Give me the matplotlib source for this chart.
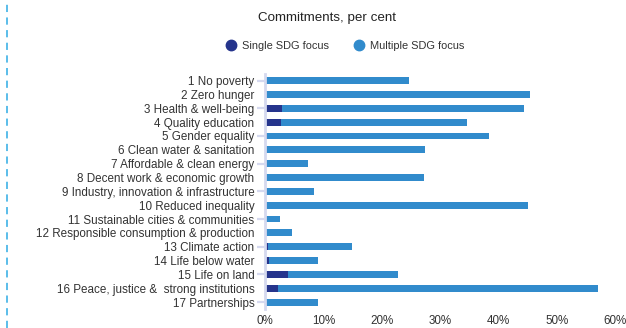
import matplotlib
matplotlib.use("Agg")
import matplotlib.pyplot as plt
from matplotlib.lines import Line2D

plt.rcParams['font.family'] = ['Liberation Sans', 'DejaVu Sans']

categories = [
    "1 No poverty", "2 Zero hunger", "3 Health & well-being", "4 Quality education",
    "5 Gender equality", "6 Clean water & sanitation", "7 Affordable & clean energy",
    "8 Decent work & economic growth", "9 Industry, innovation & infrastructure",
    "10 Reduced inequality", "11 Sustainable cities & communities",
    "12 Responsible consumption & production", "13 Climate action",
    "14 Life below water", "15 Life on land", "16 Peace, justice &  strong institutions",
    "17 Partnerships",
]
single = [0.0, 0.0, 2.9, 2.7, 0.3, 0.0, 0.0, 0.0, 0.0, 0.0, 0.0, 0.0, 0.5, 0.7, 3.9, 2.2, 0.0]
total = [24.7, 45.4, 44.4, 34.6, 38.4, 27.4, 7.4, 27.3, 8.4, 45.1, 2.6, 4.6, 14.9, 9.1, 22.8, 57.1, 9.1]
multiple = [t - s for t, s in zip(total, single)]
xticks = [0, 10, 20, 30, 40, 50, 60]
xtick_labels = ["0%", "10%", "20%", "30%", "40%", "50%", "60%"]

DARK = "#25348c"
LIGHT = "#318bcc"
AXC = "#d5d9ef"
TXT = "#333333"

W, H = 626, 328
fig = plt.figure(figsize=(W / 100, H / 100), dpi=100)
ax = fig.add_axes([265 / W, 1 - 309 / H, 350 / W, (309 - 73.7) / H])

y = list(range(len(categories)))
ax.barh(y, single, height=0.5, color=DARK)
ax.barh(y, multiple, left=single, height=0.5, color=LIGHT)

ax.set_ylim(len(categories) - 0.5, -0.5)
ax.set_xlim(0, 60)
ax.set_yticks(y)
ax.set_yticklabels(categories, fontsize=8.4, color=TXT)
ax.set_xticks(xticks)
ax.set_xticklabels(xtick_labels, fontsize=8.4, color=TXT)
ax.tick_params(axis='x', length=0, pad=4)
ax.tick_params(axis='y', length=6, width=1.6, color=AXC, pad=1.5)
for i, t in enumerate(ax.yaxis.get_major_ticks()):
    t.tick1line.set_visible(i % 2 == 0)

for s in ['top', 'right', 'bottom']:
    ax.spines[s].set_visible(False)
ax.spines['left'].set_color(AXC)
ax.spines['left'].set_linewidth(2)

fig.text(327 / W, 1 - 18 / H, "Commitments, per cent", ha='center', va='center',
         fontsize=9.6, color="#222222")

handles = [
    Line2D([], [], marker='o', linestyle='none', markersize=7.5, color=DARK, label="Single SDG focus"),
    Line2D([], [], marker='o', linestyle='none', markersize=7.5, color=LIGHT, label="Multiple SDG focus"),
]
fig.legend(handles=handles, loc='center', bbox_to_anchor=(345 / W, 1 - 46 / H), ncol=2,
           frameon=False, fontsize=7.9, handletextpad=0.55, columnspacing=2.2,
           labelcolor="#333333", handlelength=1.0)

fig.add_artist(Line2D([6.5 / W, 6.5 / W], [0, 1], transform=fig.transFigure,
                      color="#4db8e8", linewidth=1.3, linestyle=(0, (4, 3))))

fig.savefig("out.png", dpi=100)
